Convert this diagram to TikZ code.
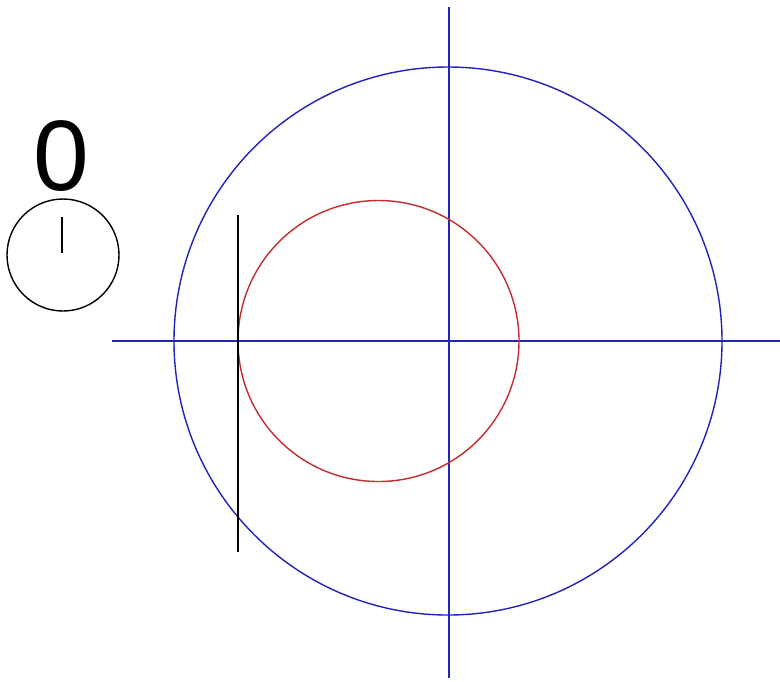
\documentclass[tikz,border=0pt]{standalone}
\usepackage{fontspec}
\setsansfont{Liberation Sans}
\definecolor{axisblue}{RGB}{35,35,185}
\definecolor{wheelred}{RGB}{195,45,45}

\begin{document}
\begin{tikzpicture}[x=0.02cm, y=-0.02cm, line width=0.8pt]
  \useasboundingbox (0,0) rectangle (780,681);
  \def\R{274}
  \def\r{140.5}
  \coordinate (O) at (448,341);   % big circle
  \coordinate (W) at (378.5,341); % red circle
  \coordinate (D) at (63,255);    % dial
  % axes
  \coordinate (xl) at (112,341);
  \coordinate (xr) at (780,341);
  \coordinate (yt) at (449,7);
  \coordinate (yb) at (449,678);
  \draw[axisblue] (xl) -- (xr);
  \draw[axisblue] (yt) -- (yb);
  \draw[axisblue] (O) circle (\R);
  \draw[wheelred] (W) circle (\r);
  % tangent line
  \coordinate (tt) at (238,215);
  \coordinate (tb) at (238,552);
  \draw (tt) -- (tb);
  % dial
  \draw (D) circle (56);
  \coordinate (hand) at (62,217);
  \draw (hand) -- ++(0,36);
  \node[font=\sffamily\fontsize{57}{57}\selectfont, anchor=base, inner sep=0pt] (val) at (61,190) {0};
\end{tikzpicture}
\end{document}
